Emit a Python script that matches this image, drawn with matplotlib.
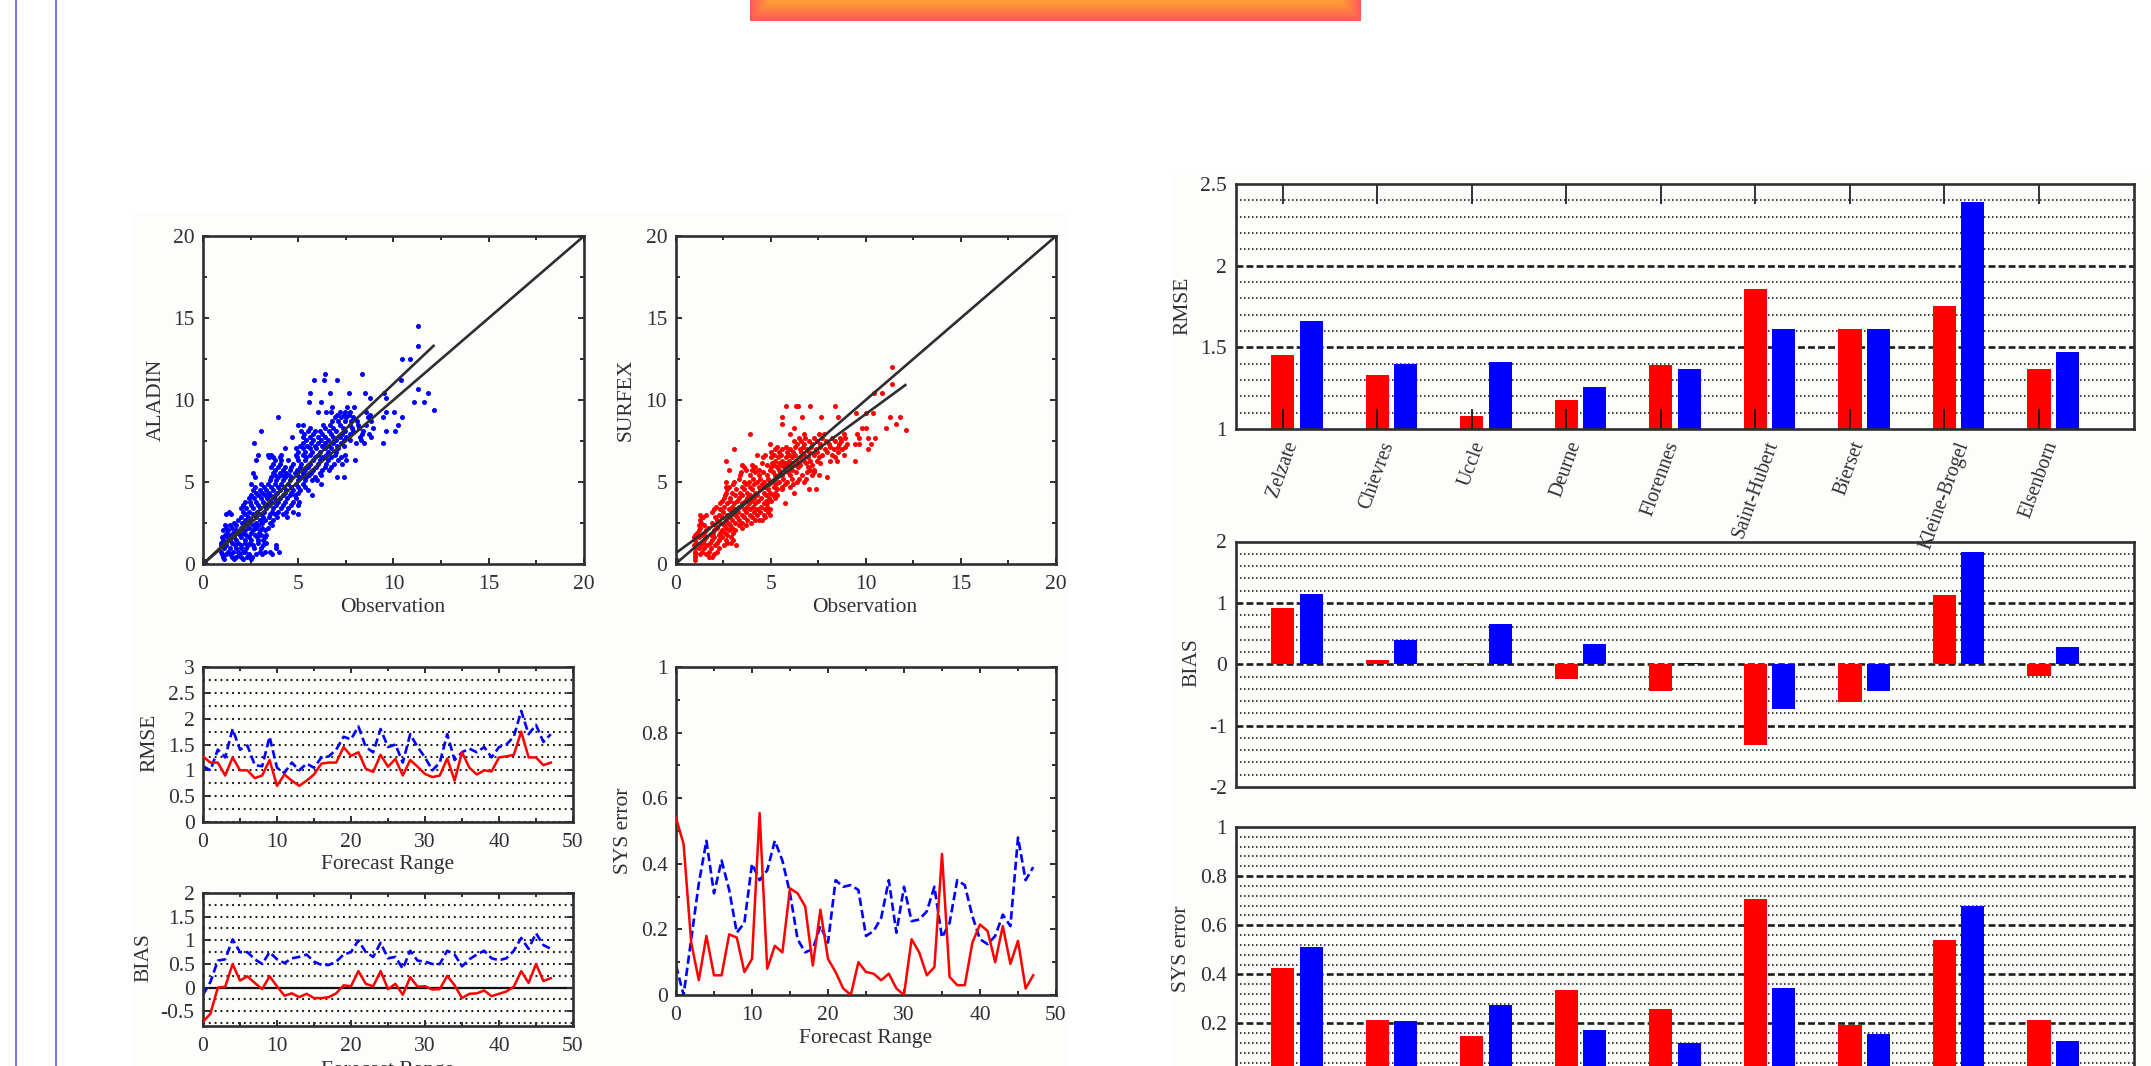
import matplotlib
matplotlib.use('Agg')
import matplotlib.pyplot as plt
from matplotlib.patches import Rectangle
from matplotlib.colors import to_rgb
import numpy as np

W, H = 2151., 1066.

plt.rcParams['font.family'] = ['Liberation Serif', 'DejaVu Serif']
plt.rcParams['axes.unicode_minus'] = False
plt.rcParams['text.color'] = '#303030'
plt.rcParams['axes.labelcolor'] = '#303030'
plt.rcParams['xtick.color'] = '#303030'
plt.rcParams['ytick.color'] = '#303030'

# Forecast range curves, surfex (red) and aladin (blue)
ranges = list(range(48))
rmse_red = [1.27, 1.15, 1.15, 0.9, 1.25, 1.0, 1.0, 0.85, 0.9, 1.2, 0.7, 0.92, 0.8, 0.7, 0.8, 0.92,
            1.13, 1.15, 1.15, 1.45, 1.28, 1.35, 1.03, 0.97, 1.3, 1.07, 1.22, 0.9, 1.2, 1.07, 0.93, 0.87,
            0.9, 1.23, 0.8, 1.35, 1.05, 0.92, 1.0, 0.98, 1.25, 1.27, 1.3, 1.75, 1.25, 1.25, 1.1, 1.15]
rmse_blue = [1.08, 1.0, 1.4, 1.25, 1.8, 1.4, 1.48, 1.1, 1.08, 1.65, 1.05, 0.95, 1.15, 1.0, 1.13, 1.05,
             1.25, 1.27, 1.4, 1.65, 1.6, 1.85, 1.45, 1.35, 1.8, 1.45, 1.5, 1.15, 1.7, 1.45, 1.25, 1.0,
             1.15, 1.7, 1.2, 1.35, 1.42, 1.35, 1.45, 1.25, 1.45, 1.5, 1.65, 2.15, 1.7, 1.88, 1.55, 1.7]
bias_red = [-0.72, -0.55, 0.0, 0.02, 0.5, 0.15, 0.24, 0.1, -0.03, 0.24, 0.03, -0.17, -0.12, -0.2, -0.13, -0.22,
            -0.22, -0.2, -0.12, 0.05, 0.03, 0.35, 0.08, 0.03, 0.35, -0.03, 0.08, -0.15, 0.22, 0.02, 0.03, -0.04,
            -0.03, 0.25, 0.05, -0.22, -0.13, -0.12, -0.06, -0.18, -0.13, -0.08, 0.02, 0.35, 0.1, 0.5, 0.14, 0.2]
bias_blue = [-0.15, 0.12, 0.57, 0.6, 1.02, 0.75, 0.75, 0.6, 0.5, 0.75, 0.6, 0.52, 0.62, 0.65, 0.7, 0.55,
             0.48, 0.48, 0.55, 0.7, 0.75, 1.0, 0.75, 0.65, 0.95, 0.62, 0.65, 0.4, 0.78, 0.57, 0.55, 0.5,
             0.5, 0.78, 0.7, 0.45, 0.6, 0.7, 0.78, 0.62, 0.58, 0.62, 0.78, 1.05, 0.82, 1.15, 0.9, 0.82]
sys_red = [0.54, 0.46, 0.16, 0.045, 0.18, 0.06, 0.06, 0.185, 0.175, 0.07, 0.11, 0.555, 0.08, 0.15, 0.13, 0.325,
           0.31, 0.27, 0.09, 0.26, 0.11, 0.07, 0.02, 0.0, 0.1, 0.07, 0.065, 0.045, 0.065, 0.02, 0.0, 0.17,
           0.13, 0.06, 0.085, 0.43, 0.055, 0.03, 0.03, 0.16, 0.215, 0.195, 0.1, 0.21, 0.095, 0.165, 0.02, 0.06]
sys_blue = [0.09, 0.0, 0.17, 0.34, 0.47, 0.31, 0.41, 0.32, 0.19, 0.22, 0.4, 0.35, 0.38, 0.47, 0.41, 0.31,
            0.17, 0.13, 0.14, 0.21, 0.16, 0.35, 0.33, 0.335, 0.32, 0.18, 0.195, 0.235, 0.35, 0.19, 0.33, 0.225,
            0.23, 0.255, 0.33, 0.175, 0.22, 0.35, 0.335, 0.24, 0.17, 0.155, 0.18, 0.245, 0.21, 0.48, 0.35, 0.39]

# Station bars
stations = ['Zelzate', 'Chievres', 'Uccle', 'Deurne', 'Florennes', 'Saint-Hubert', 'Bierset', 'Kleine-Brogel', 'Elsenborn']
st_rmse_red = [1.454, 1.33, 1.08, 1.18, 1.39, 1.86, 1.61, 1.75, 1.37]
st_rmse_blue = [1.66, 1.40, 1.41, 1.26, 1.37, 1.61, 1.61, 2.39, 1.47]
st_bias_red = [0.915, 0.075, 0.02, -0.245, -0.43, -1.31, -0.61, 1.13, -0.19]
st_bias_blue = [1.15, 0.40, 0.66, 0.33, 0.02, -0.73, -0.44, 1.835, 0.28]
st_sys_red = [0.425, 0.213, 0.149, 0.338, 0.26, 0.708, 0.194, 0.539, 0.216]
st_sys_blue = [0.51, 0.21, 0.275, 0.175, 0.12, 0.343, 0.157, 0.677, 0.13]

# Scatter points read row by row: (model value, observations on that row)
aladin_rows = [
    (0.2, [0.1]),
    (0.3, [1.12, 1.62, 2.12, 2.52]),
    (0.45, [1.05, 1.5, 1.75, 2.0, 2.3, 2.55]),
    (0.6, [1.0, 1.22, 1.44, 1.9, 2.4, 2.8, 3.1, 3.6]),
    (0.75, [0.96, 1.3, 1.58, 1.84, 2.1, 2.2, 2.98, 3.24, 3.5, 3.99]),
    (0.95, [1.08, 1.4, 1.72, 1.98, 2.28, 2.68, 3.02, 3.82]),
    (1.15, [0.96, 1.23, 1.66, 2.0, 2.36, 2.63, 3.15, 3.85]),
    (1.3, [0.92, 1.14, 1.5, 1.85, 2.2, 2.48, 2.9, 3.3]),
    (1.46, [1.05, 1.4, 1.75, 2.19, 2.54, 2.89, 3.15]),
    (1.62, [0.98, 1.28, 1.62, 2.02, 2.4, 2.82, 3.24]),
    (1.77, [1.14, 1.49, 1.93, 2.28, 2.71, 3.06, 3.33]),
    (1.92, [1.24, 1.58, 1.84, 2.12, 2.5, 2.92]),
    (2.07, [1.05, 1.31, 1.75, 2.19, 2.63, 2.98, 3.24]),
    (2.22, [1.2, 1.5, 1.98, 2.42, 2.8, 3.12, 3.42]),
    (2.38, [1.14, 1.4, 1.75, 2.28, 2.63, 2.89, 3.64]),
    (2.52, [1.62, 2.06, 2.4, 2.76, 3.1, 3.5]),
    (2.68, [1.84, 2.19, 2.54, 2.98, 3.24, 3.68]),
    (2.85, [2.02, 2.34, 2.78, 3.14, 3.44, 3.9, 4.4]),
    (3.03, [1.23, 1.49, 2.19, 2.63, 3.06, 3.5, 3.76, 4.2, 4.99]),
    (3.2, [1.36, 2.08, 2.42, 2.82, 3.2, 3.6, 3.96, 4.36, 4.7]),
    (3.39, [2.0, 2.28, 2.63, 2.98, 3.33, 3.68, 4.1, 4.47]),
    (3.6, [2.1, 2.54, 2.9, 3.24, 3.48, 3.82, 4.18, 4.6, 5.0]),
    (3.8, [2.19, 2.45, 2.8, 3.15, 3.59, 3.94, 4.29, 4.73, 5.03]),
    (4.0, [2.4, 2.7, 3.06, 3.38, 3.72, 4.06, 4.42, 4.9]),
    (4.2, [2.54, 2.89, 3.24, 3.5, 3.76, 4.2, 4.55, 4.82, 5.74]),
    (4.35, [2.76, 3.12, 3.44, 3.86, 4.3, 4.64, 5.0]),
    (4.5, [2.63, 2.98, 3.33, 3.68, 4.03, 4.38, 4.73, 5.08, 5.52]),
    (4.7, [2.72, 3.2, 3.58, 3.92, 4.26, 4.62, 5.0, 5.38]),
    (4.9, [2.54, 3.06, 3.41, 3.76, 4.12, 4.47, 4.9, 5.25, 6.22]),
    (5.1, [3.5, 3.84, 4.2, 4.56, 4.98, 5.36, 5.72, 6.0]),
    (5.28, [2.71, 3.59, 3.94, 4.29, 4.64, 5.08, 5.43, 5.87, 7.04, 7.41]),
    (5.4, [3.76, 4.14, 4.5, 4.92, 5.32, 5.58, 6.2]),
    (5.53, [2.63, 3.68, 4.03, 4.38, 4.82, 5.25, 5.69, 6.13]),
    (5.73, [3.8, 4.2, 4.58, 4.96, 5.36, 5.8, 6.26, 6.6]),
    (5.93, [3.59, 3.94, 4.29, 4.64, 5.08, 5.52, 5.95, 6.39, 6.74]),
    (6.12, [3.66, 4.04, 4.74, 5.16, 5.64, 6.02, 6.46, 6.86, 7.3]),
    (6.34, [2.8, 3.76, 4.12, 4.47, 4.99, 5.34, 5.78, 6.13, 6.57, 7.09, 7.53, 7.97]),
    (6.5, [3.48, 3.7, 4.04, 4.96, 5.42, 5.9, 6.26, 6.7, 7.26]),
    (6.65, [2.89, 3.41, 3.59, 4.12, 4.9, 5.25, 5.6, 6.04, 6.48, 6.92, 7.44]),
    (6.85, [4.98, 5.38, 5.72, 6.16, 6.56, 6.98]),
    (7.05, [4.29, 4.9, 5.25, 5.6, 5.95, 6.39, 6.74, 7.09]),
    (7.2, [5.1, 5.46, 5.88, 6.24, 6.62, 7.04, 7.42]),
    (7.36, [2.68, 5.25, 5.69, 6.04, 6.39, 6.83, 7.27, 8.02, 8.44, 9.46]),
    (7.55, [5.4, 5.8, 6.2, 6.56, 7.0, 7.4, 7.74, 8.3]),
    (7.76, [4.69, 5.25, 5.6, 6.04, 6.39, 6.83, 7.18, 7.53, 8.23, 8.84]),
    (7.95, [5.3, 5.76, 6.26, 6.72, 7.3, 7.7, 8.34, 8.7]),
    (8.11, [3.06, 5.17, 5.52, 5.87, 6.13, 6.62, 7.0, 7.44, 7.88, 8.41, 9.61, 10.1]),
    (8.3, [5.6, 6.4, 6.84, 7.34, 7.8, 8.2, 8.9]),
    (8.48, [4.99, 5.25, 6.3, 6.65, 7.18, 7.71, 8.14, 8.58, 10.23]),
    (8.7, [6.76, 7.08, 7.48, 7.76, 8.1, 8.8]),
    (8.98, [3.94, 6.92, 7.27, 7.53, 7.88, 8.67, 9.46, 10.44]),
    (9.1, [7.06, 7.4, 7.66, 8.76]),
    (9.29, [6.04, 6.48, 6.74, 7.18, 7.44, 7.71, 8.58, 9.63, 10.03]),
    (9.59, [6.78, 7.58, 7.93]),
    (9.86, [5.59, 6.22, 11.05, 11.59]),
    (10.1, [8.76, 9.6]),
    (10.45, [5.62, 6.67, 7.65, 8.53, 9.51, 11.79]),
    (10.67, [11.3]),
    (11.2, [5.83, 6.34, 7.06, 10.37]),
    (11.6, [6.43, 8.37]),
    (12.5, [10.42, 10.84]),
    (13.3, [11.3]),
    (14.5, [11.3]),
    (9.37, [12.1]),
]
surfex_rows = [
    (0.24, [0.1, 1.02]),
    (0.45, [1.05, 1.75, 1.93]),
    (0.6, [1.02, 1.28, 1.6, 2.0]),
    (0.75, [1.05, 1.4, 1.75, 2.19]),
    (0.95, [1.0, 1.22, 1.5, 1.84, 2.3]),
    (1.16, [0.96, 1.31, 1.66, 2.1, 2.54, 3.2]),
    (1.3, [1.1, 1.44, 1.8, 2.2, 2.72, 2.9]),
    (1.46, [1.05, 1.49, 1.93, 2.28, 2.63, 3.01]),
    (1.62, [0.98, 1.26, 1.62, 2.04, 2.44, 2.9]),
    (1.77, [1.05, 1.4, 1.84, 2.28, 2.71]),
    (1.92, [1.14, 1.52, 1.96, 2.36, 2.62, 3.0]),
    (2.07, [1.23, 1.58, 2.0, 2.45, 2.8, 3.15]),
    (2.22, [1.3, 1.72, 2.18, 2.66, 2.98, 3.48]),
    (2.38, [1.23, 1.49, 2.1, 2.54, 2.89, 3.33, 3.68]),
    (2.52, [1.34, 1.94, 2.32, 2.76, 3.12, 3.52, 3.96]),
    (2.68, [1.31, 2.19, 2.63, 2.98, 3.33, 3.76, 4.2, 4.41, 4.55]),
    (2.85, [1.44, 2.06, 2.46, 2.84, 3.22, 3.62, 4.02, 4.7]),
    (2.99, [1.31, 1.58, 2.28, 2.71, 3.15, 3.5, 3.94, 4.29, 4.64, 4.99]),
    (3.15, [1.92, 2.5, 2.96, 3.3, 3.7, 4.12, 4.46, 4.88]),
    (3.33, [2.0, 2.36, 2.8, 3.15, 3.59, 3.94, 4.29, 4.73, 4.99]),
    (3.5, [2.12, 2.56, 2.98, 3.36, 3.78, 4.08, 4.5, 4.8]),
    (3.7, [2.36, 2.71, 3.06, 3.5, 3.85, 4.2, 4.64, 4.82, 5.74]),
    (3.85, [2.44, 2.84, 3.22, 3.64, 3.98, 4.36, 4.76, 5.0]),
    (4.0, [2.54, 2.89, 3.33, 3.76, 4.12, 4.47, 4.9, 5.25]),
    (4.2, [2.62, 3.12, 3.52, 3.94, 4.3, 4.74, 5.1, 5.32]),
    (4.35, [2.63, 2.98, 3.41, 3.76, 4.2, 4.64, 4.99, 5.25, 6.22]),
    (4.55, [2.7, 3.2, 3.62, 4.04, 4.44, 4.86, 5.34, 5.62]),
    (4.6, [7.04, 7.41]),
    (4.72, [2.63, 2.8, 3.5, 3.94, 4.38, 4.73, 5.17, 5.6, 6.04]),
    (4.87, [3.02, 3.7, 4.14, 4.54, 4.92, 5.3, 5.74, 6.18]),
    (5.02, [2.63, 3.06, 3.59, 3.85, 4.29, 4.64, 5.08, 5.43, 5.87, 6.39, 6.74]),
    (5.2, [3.34, 4.06, 4.46, 4.84, 5.24, 5.66, 6.1, 6.5, 6.84]),
    (5.3, [7.97]),
    (5.43, [3.41, 3.94, 4.38, 4.82, 5.25, 5.6, 6.04, 6.65, 7.18, 7.53]),
    (5.6, [3.44, 4.16, 4.6, 5.12, 5.5, 5.92, 6.36, 6.92, 7.3]),
    (5.73, [2.8, 3.68, 4.03, 4.38, 4.99, 5.43, 5.78, 6.13, 7.09, 7.27]),
    (5.9, [3.62, 4.2, 5.04, 5.34, 5.7, 6.04, 6.44, 6.96]),
    (6.04, [3.5, 4.03, 4.82, 5.17, 5.52, 5.87, 6.22, 6.57, 7.18]),
    (6.15, [4.54, 5.06, 5.42, 5.74, 6.1, 6.48, 6.86, 7.6]),
    (6.3, [2.68, 5.25, 5.6, 5.95, 6.39, 6.74, 7.09, 7.44, 8.14, 8.49, 9.46]),
    (6.5, [4.62, 5.04, 5.38, 5.8, 6.14, 6.56, 6.94, 7.56, 8.4]),
    (6.65, [4.29, 4.73, 5.17, 5.52, 5.95, 6.3, 6.74, 7.27, 7.71, 8.23, 8.84]),
    (6.82, [5.02, 5.44, 5.86, 6.2, 6.62, 7.02, 7.46, 7.96, 8.56]),
    (7.0, [3.06, 5.25, 5.6, 6.04, 6.57, 6.92, 7.36, 7.88, 8.32, 8.76, 10.1]),
    (7.15, [5.36, 5.82, 6.3, 6.7, 7.14, 7.62, 8.1, 8.54, 8.9]),
    (7.3, [4.99, 6.39, 6.74, 7.18, 7.62, 8.06, 8.58, 9.02, 9.46, 9.63, 10.25]),
    (7.5, [6.24, 6.6, 7.02, 7.44, 7.9, 8.4, 8.7]),
    (7.66, [6.48, 6.83, 7.27, 7.71, 8.23, 8.67, 8.93, 9.67, 10.1, 10.46]),
    (7.95, [3.94, 6.04, 6.74, 7.53, 7.79, 8.84, 9.54]),
    (8.3, [6.22, 9.8, 10.03, 11.05]),
    (8.55, [5.59, 11.59]),
    (8.95, [5.62, 6.67, 7.65, 8.53, 11.3, 11.79]),
    (8.19, [12.1]),
    (9.2, [9.49, 10.0, 10.37]),
    (9.65, [5.83, 6.34, 6.43, 7.06, 8.37]),
    (10.4, [10.42, 10.84]),
    (11.0, [11.37]),
    (12.0, [11.37]),
]
identity = [0, 20]
aladin_fit_x = [0, 12.1]
aladin_fit_y = [0, 13.3]
surfex_fit_x = [0, 12.08]
surfex_fit_y = [0.65, 10.91]

# Tick labels
scatter_ticks = [0, 5, 10, 15, 20]
range_ticks = [0, 10, 20, 30, 40, 50]
rmse_ticks = [0, 0.5, 1, 1.5, 2, 2.5, 3]
rmse_labels = ['0', '0.5', '1', '1.5', '2', '2.5', '3']
bias_ticks = [-0.5, 0, 0.5, 1, 1.5, 2]
bias_labels = ['-0.5', '0', '0.5', '1', '1.5', '2']
sys_ticks = [0, 0.2, 0.4, 0.6, 0.8, 1]
sys_labels = ['0', '0.2', '0.4', '0.6', '0.8', '1']
st_rmse_ticks = [1, 1.5, 2, 2.5]
st_rmse_labels = ['1', '1.5', '2', '2.5']
st_bias_ticks = [-2, -1, 0, 1, 2]
st_bias_labels = ['-2', '-1', '0', '1', '2']

DARK = '#2e2e2e'
FS = 15.5

f = plt.figure(figsize=(W / 100., H / 100.), dpi=100, facecolor='white')

# Page furniture, in pixels
bg = f.add_axes([0, 0, 1, 1], zorder=-1)
bg.set_xlim(0, W)
bg.set_ylim(H, 0)
bg.axis('off')
bg.add_patch(Rectangle((130, 212), 940, 900, fc='#fdfdfb', ec='none'))
bg.add_patch(Rectangle((1170, 170), 990, 900, fc='#fdfdfb', ec='none'))
bg.axvline(16, color='#6a6af5', lw=1.3)
bg.axvline(56, color='#6a6af5', lw=1.3)
c0, c1 = np.array(to_rgb('#ff5a58')), np.array(to_rgb('#ff9c36'))
for i in range(10):
    t = i / 9.
    bg.add_patch(Rectangle((749.5 + 2 * i, -20), 611 - 4 * i, 40.6 - 2 * i, fc=c0 + t * (c1 - c0), ec='none'))


def px_axes(x0, x1, y0, y1):
    ax = f.add_axes([x0 / W, 1 - y1 / H, (x1 - x0) / W, (y1 - y0) / H])
    ax.patch.set_visible(False)
    for s in ax.spines.values():
        s.set_linewidth(1.9)
        s.set_color(DARK)
    ax.tick_params(which='both', direction='in', top=True, right=True, color=DARK, width=1.4, labelsize=FS)
    ax.tick_params(which='major', length=4.5)
    ax.tick_params(which='minor', length=3)
    ax.tick_params(axis='x', which='major', pad=8)
    ax.tick_params(axis='y', which='major', pad=6)
    return ax


def px_labels(ax, ylabel, ylab_x, ylab_y, xlabel=None, xlab_x=None, xlab_y=None):
    ax.set_ylabel(ylabel, fontsize=FS, va='center')
    ax.yaxis.set_label_coords(ylab_x / W, 1 - ylab_y / H, transform=f.transFigure)
    if xlabel:
        ax.set_xlabel(xlabel, fontsize=FS, va='center')
        ax.xaxis.set_label_coords(xlab_x / W, 1 - xlab_y / H, transform=f.transFigure)


def scatter_panel(x0, x1, rows, color, fit_x, fit_y, ylabel, ylab_x, xlab_x):
    ax = px_axes(x0, x1, 236, 564)
    obs = [o for v, os in rows for o in os]
    fc = [v for v, os in rows for o in os]
    ax.scatter(obs, fc, s=13, color=color, lw=0, zorder=2)
    ax.plot(identity, identity, color=DARK, lw=1.9, zorder=3)
    ax.plot(fit_x, fit_y, color=DARK, lw=1.9, zorder=3)
    ax.set_xlim(0, 20)
    ax.set_ylim(0, 20)
    ax.set_xticks(scatter_ticks)
    ax.set_yticks(scatter_ticks)
    ax.xaxis.set_minor_locator(plt.MultipleLocator(2.5))
    ax.yaxis.set_minor_locator(plt.MultipleLocator(2.5))
    px_labels(ax, ylabel, ylab_x, 400, 'Observation', xlab_x, 608)
    return ax


def range_panel(x0, x1, y0, y1, red, blue, ylim, ticks, labels, ylabel, ylab_x, ylab_y, xlab_x, xlab_y, grid_step):
    ax = px_axes(x0, x1, y0, y1)
    if grid_step:
        lo = np.ceil(ylim[0] / grid_step) * grid_step
        for v in np.arange(lo, ylim[1] - 1e-6, grid_step):
            ax.axhline(v, color='#1c1c1c', lw=1.5, ls=(0, (0.9, 1.9)), zorder=0.5)
    ax.plot(ranges, blue, color='#0000ff', lw=1.9, ls=(0, (3.2, 1.5)), zorder=2)
    ax.plot(ranges, red, color='#ff0000', lw=1.8, zorder=3)
    ax.set_xlim(0, 50)
    ax.set_ylim(*ylim)
    ax.set_xticks(range_ticks)
    ax.set_yticks(ticks, labels)
    ax.xaxis.set_minor_locator(plt.MultipleLocator(5))
    px_labels(ax, ylabel, ylab_x, ylab_y, 'Forecast Range', xlab_x, xlab_y)
    return ax


def station_panel(y0, y1, red, blue, ylim, ticks, labels, minor_step, major_step, ylabel, ylab_x, ylab_y):
    ax = px_axes(1235.5, 2133.5, y0, y1)
    n = np.arange(1, len(stations) + 1)
    lo = np.ceil(ylim[0] / minor_step - 1e-6) * minor_step
    for v in np.arange(lo + minor_step, ylim[1] - 1e-6, minor_step):
        k = v / major_step
        if abs(k - round(k)) < 1e-6:
            ax.axhline(v, color='#1c1c1c', lw=1.9, ls=(0, (2.6, 1.2)), zorder=0.6)
        else:
            ax.axhline(v, color='#1c1c1c', lw=1.2, ls=(0, (0.9, 1.5)), zorder=0.5)
    ax.bar(n, red, width=0.245, color='#ff0000', zorder=1)
    ax.bar(n + 0.3, blue, width=0.245, color='#0000ff', zorder=1)
    ax.set_xlim(0.5, 10)
    ax.set_ylim(*ylim)
    ax.set_xticks([])
    ax.set_yticks(ticks, labels)
    ax.tick_params(axis='y', which='major', length=0, pad=6)
    px_labels(ax, ylabel, ylab_x, ylab_y)
    return ax


scatter_panel(203, 584, aladin_rows, '#0000ff', aladin_fit_x, aladin_fit_y, 'ALADIN', 156, 393)
scatter_panel(675.5, 1056, surfex_rows, '#ff0000', surfex_fit_x, surfex_fit_y, 'SURFEX', 626, 865)

range_panel(203, 573, 667, 822, rmse_red, rmse_blue, (0, 3), rmse_ticks, rmse_labels,
            'RMSE', 150, 743, 388, 864, 0.25)
ax_bias = range_panel(203, 573, 893, 1026, bias_red, bias_blue, (-0.81, 2), bias_ticks, bias_labels,
                      'BIAS', 144, 958, 388, 1070, 0.25)
ax_bias.axhline(0, color='#111111', lw=1.6, zorder=1.5)

ax_sys = range_panel(676, 1056, 667, 995, sys_red, sys_blue, (0, 1), sys_ticks, sys_labels,
                     'SYS error', 623, 831, 866, 1038, None)
ax_sys.yaxis.set_minor_locator(plt.MultipleLocator(0.1))

ax_r = station_panel(184, 429, st_rmse_red, st_rmse_blue, (1, 2.5), st_rmse_ticks, st_rmse_labels,
                     0.1, 0.5, 'RMSE', 1183, 306)
ax_r.set_xticks(np.arange(1, len(stations) + 1), stations, rotation=70, ha='center', va='top', fontsize=14.2)
ax_r.tick_params(axis='x', which='major', length=14.5, width=1.2, color='#111111', pad=7)

station_panel(541.5, 787, st_bias_red, st_bias_blue, (-2, 2), st_bias_ticks, st_bias_labels,
              0.2, 1, 'BIAS', 1192, 663)
station_panel(827, 1072.6, st_sys_red, st_sys_blue, (0, 1), sys_ticks, sys_labels,
              0.04, 0.2, 'SYS error', 1182, 949)

f.savefig('out.png', dpi=100)
